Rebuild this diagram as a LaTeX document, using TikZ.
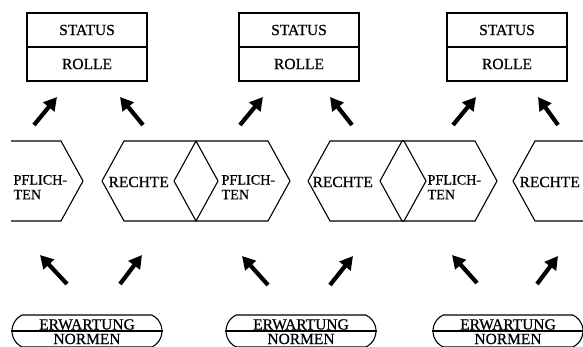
\documentclass[tikz,border=0pt]{standalone}
\usepackage{fontspec}
\setmainfont{Liberation Serif}
\newfontfamily\labfont{Liberation Serif}[FakeBold=0.7]
\usetikzlibrary{arrows.meta,shapes.misc}
% hexagon with left tip at x=#1 and right tip at x=#2
\newcommand\hexpath[2]{%
  \draw (#1,181) -- ({#1+22},141) -- ({#2-22},141) -- (#2,181)
        -- ({#2-22},221) -- ({#1+22},221) -- cycle;}
\begin{document}
\begin{tikzpicture}[x=1pt,y=-1pt,line width=1.1pt,
  lbl/.style={font=\labfont\fontsize{15.5}{15.5}\selectfont,inner sep=0pt},
  duty/.style={font=\labfont\fontsize{14.2}{14.2}\selectfont,inner sep=0pt,anchor=base west},
  cell/.style={draw,minimum width=120pt,minimum height=34pt,inner sep=0pt,
    font=\labfont\fontsize{15.5}{15.5}\selectfont},
  pill/.style={draw,rounded rectangle,rounded rectangle arc length=130,
    minimum width=150pt,minimum height=32pt,inner sep=0pt},
  fat/.style={line width=4.2pt,-{Triangle[length=13pt,width=14pt]}},
]
\useasboundingbox (0,0) rectangle (583,346);
\clip (0,0) rectangle (583,346);

% status / role boxes
\node[cell] (st1) at (87,30) {STATUS};
\node[cell] (ro1) at (87,64) {ROLLE};
\node[cell] (st2) at (299,30) {STATUS};
\node[cell] (ro2) at (299,64) {ROLLE};
\node[cell] (st3) at (507,30) {STATUS};
\node[cell] (ro3) at (507,64) {ROLLE};

% rights and duties hexagons
\draw (11,141) -- (61,141) -- (83,181) -- (61,221) -- (11,221);
\hexpath{102}{218}
\hexpath{174}{290}
\hexpath{308}{426}
\hexpath{380}{497}
\hexpath{513}{640}

\node[duty] (pf0) at (13,184.5) {PFLICH-};
\node[duty] (tn0) at (13,199.2) {TEN};
\node[lbl,anchor=west] (re1) at (108,182) {RECHTE};
\node[duty] (pf1) at (221,184.5) {PFLICH-};
\node[duty] (tn1) at (221,199.2) {TEN};
\node[lbl,anchor=west] (re2) at (312,182) {RECHTE};
\node[duty] (pf2) at (427,184.5) {PFLICH-};
\node[duty] (tn2) at (427,199.2) {TEN};
\node[lbl,anchor=west] (re3) at (519,182) {RECHTE};

% expectations / norms
\node[pill] (ov1) at (87,331) {};
\node[pill] (ov2) at (301,331) {};
\node[pill] (ov3) at (508,331) {};
\foreach \o in {ov1,ov2,ov3}{\draw (\o.west) -- (\o.east);}
\node[lbl,anchor=base] (ew1) at (87,329.5) {ERWARTUNG};
\node[lbl,anchor=base] (nm1) at (87,344) {NORMEN};
\node[lbl,anchor=base] (ew2) at (301,329.5) {ERWARTUNG};
\node[lbl,anchor=base] (nm2) at (301,344) {NORMEN};
\node[lbl,anchor=base] (ew3) at (508,329.5) {ERWARTUNG};
\node[lbl,anchor=base] (nm3) at (508,344) {NORMEN};

% upper arrows
\coordinate (ua1) at (34,125);  \coordinate (ub1) at (57,97);
\coordinate (uc1) at (143,125); \coordinate (ud1) at (120,97);
\coordinate (ua2) at (240,125); \coordinate (ub2) at (263,97);
\coordinate (uc2) at (352,125); \coordinate (ud2) at (330,97);
\coordinate (ua3) at (453,125); \coordinate (ub3) at (476,97);
\coordinate (uc3) at (558,125); \coordinate (ud3) at (538,97);
\foreach \i in {1,2,3}{
  \draw[fat] (ua\i) -- (ub\i);
  \draw[fat] (uc\i) -- (ud\i);}

% lower arrows
\coordinate (la1) at (67,284);  \coordinate (lb1) at (40,255);
\coordinate (lc1) at (120,284); \coordinate (ld1) at (142,255);
\coordinate (la2) at (268,285); \coordinate (lb2) at (242,256);
\coordinate (lc2) at (330,285); \coordinate (ld2) at (353,256);
\coordinate (la3) at (477,283); \coordinate (lb3) at (452,255);
\coordinate (lc3) at (537,284); \coordinate (ld3) at (558,256);
\foreach \i in {1,2,3}{
  \draw[fat] (la\i) -- (lb\i);
  \draw[fat] (lc\i) -- (ld\i);}
\end{tikzpicture}
\end{document}
